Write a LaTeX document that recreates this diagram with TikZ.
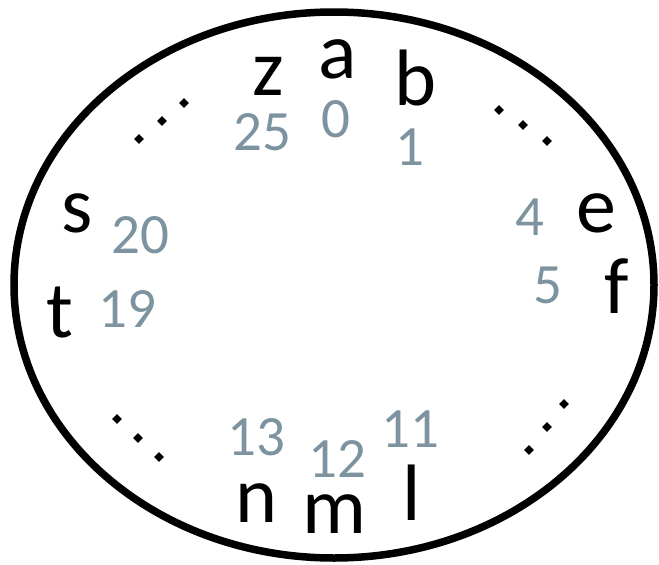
\documentclass[tikz,border=0pt]{standalone}
\usepackage{fontspec}
\setmainfont{Carlito}
\definecolor{numgray}{HTML}{7D93A0}
\begin{document}
\begin{tikzpicture}[x=1pt,y=-1pt,
  letter/.style={anchor=base,inner sep=0pt,font=\fontsize{80}{80}\selectfont,text=black},
  num/.style={anchor=base,inner sep=0pt,font=\fontsize{57}{57}\selectfont,text=numgray},
  dotd/.style={fill=black,draw=none,minimum size=7pt,inner sep=0pt,rotate=45,shape=rectangle}]
\useasboundingbox (0,0) rectangle (659,565);
\draw[line width=7.5pt] (334,285) ellipse [x radius=320, y radius=273];
% letters
\node[letter] (a) at (338,78) {a};
\node[letter] (z) at (268,95) {z};
\node[letter] (b) at (416,105) {b};
\node[letter] (e) at (596,232) {e};
\node[letter] (f) at (617,313) {f};
\node[letter] (s) at (77,232) {s};
\node[letter] (t) at (60,337) {t};
\node[letter] (n) at (257,522) {n};
\node[letter] (m) at (334,533) {m};
\node[letter] (l) at (412,520) {l};
% numbers
\node[num] (n25) at (262,150) {25};
\node[num] (n0) at (336,137) {0};
\node[num] (n1) at (410,165) {1};
\node[num] (n4) at (530,235) {4};
\node[num] (n5) at (548,303) {5};
\node[num] (n20) at (140,253) {20};
\node[num] (n19) at (127,327) {19};
\node[num] (n13) at (256,455) {13};
\node[num] (n12) at (337,477) {12};
\node[num] (n11) at (410,447) {11};
% ellipsis dots
\foreach \p [count=\i] in {(139,139),(162,121),(184,103),
  (499,110),(523,125),(547,141),
  (117,419),(138,438),(159,457),
  (564,404),(547,427),(529,450)}
  \node[dotd] (d\i) at \p {};
\end{tikzpicture}
\end{document}
